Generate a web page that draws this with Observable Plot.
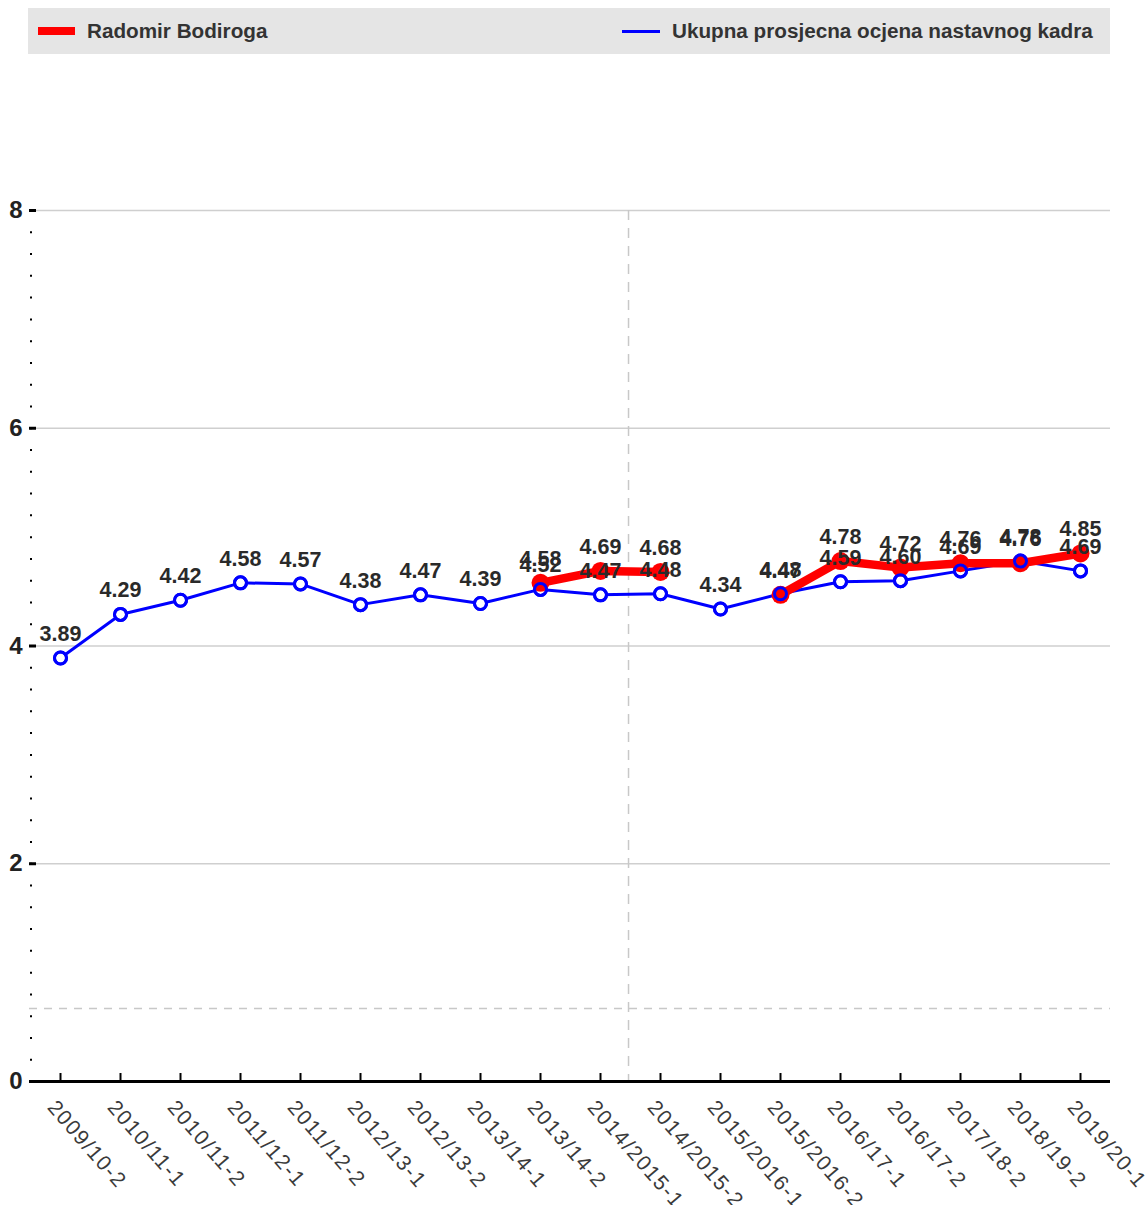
<!DOCTYPE html>
<html>
<head>
<meta charset="utf-8">
<script src="https://cdn.jsdelivr.net/npm/d3@7"></script>
<script src="https://cdn.jsdelivr.net/npm/@observablehq/plot@0.6"></script>
<style>
  html, body { margin: 0; padding: 0; background: #fff; }
  body { width: 1146px; font-family: "Liberation Sans", Arial, sans-serif; }
  #legend {
    position: relative; margin: 8px 0 0 28px; width: 1082px; height: 46px;
    background: #e5e5e5; color: #333; font-size: 20.7px; font-weight: bold;
  }
  .item { position: absolute; top: 0; height: 46px; display: flex; align-items: center; }
  .sw { display: inline-block; margin-right: 12px; }
  #chart { margin-top: 6px; }
  #chart svg g[aria-label="x-axis tick label"] { letter-spacing: 1.5px; }
</style>
</head>
<body>
<div id="legend">
  <div class="item" style="left:10px"><span class="sw" style="width:37px;height:8px;background:#ff0000"></span>Radomir Bodiroga</div>
  <div class="item" style="left:594px"><span class="sw" style="width:38px;height:3px;background:#0000ff"></span>Ukupna prosjecna ocjena nastavnog kadra</div>
</div>
<div id="chart"></div>
<script>
const categories = ["2009/10-2","2010/11-1","2010/11-2","2011/12-1","2011/12-2","2012/13-1","2012/13-2","2013/14-1","2013/14-2","2014/2015-1","2014/2015-2","2015/2016-1","2015/2016-2","2016/17-1","2016/17-2","2017/18-2","2018/19-2","2019/20-1"];
const overallAvg = [3.89, 4.29, 4.42, 4.58, 4.57, 4.38, 4.47, 4.39, 4.52, 4.47, 4.48, 4.34, 4.48, 4.59, 4.60, 4.69, 4.78, 4.69];
const teacherAvg = [null, null, null, null, null, null, null, null, 4.58, 4.69, 4.68, null, 4.47, 4.78, 4.72, 4.76, 4.76, 4.85];
const yTicks = [0, 2, 4, 6, 8];
const yMinorTicks = d3.range(0, 40).map(i => i * 0.2);
const referenceY = 0.67;
const dividerAfter = "2014/2015-1";

const blue = categories.map((c, i) => ({cat: c, v: overallAvg[i]}));
const red = categories.map((c, i) => ({cat: c, v: teacherAvg[i]}));
const redPts = red.filter(d => d.v != null);

const W = 1146, ML = 29, MR = 36;
const step = (W - ML - MR) / categories.length;

const chart = Plot.plot({
  width: W,
  height: 1145,
  marginTop: 150,
  marginBottom: 124,
  marginLeft: ML,
  marginRight: MR,
  style: {fontFamily: "Liberation Sans, Arial, sans-serif", background: "#fff"},
  x: {type: "point", domain: categories, padding: 0.5, label: null},
  y: {domain: [0, 8], label: null},
  marks: [
    Plot.gridY(yTicks.filter(v => v > 0), {stroke: "#cfcfcf", strokeOpacity: 1, strokeWidth: 1.5}),
    Plot.ruleY([referenceY], {stroke: "#c8c8c8", strokeWidth: 1.5, strokeDasharray: "8,7"}),
    Plot.ruleX([dividerAfter], {dx: step / 2 - 2, stroke: "#c8c8c8", strokeWidth: 1.5, strokeDasharray: "10,8"}),
    Plot.axisY(yTicks, {tickSize: 0, tickPadding: 7, tickFormat: d => String(d), fontSize: 24, fontWeight: "bold", fill: "#222", label: null}),
    Plot.axisY(yTicks, {fill: "none", tickSize: 7, dx: 7, stroke: "#000", strokeWidth: 3, label: null}),
    Plot.axisY(yMinorTicks, {fill: "none", tickSize: 2, dx: 3, stroke: "#000", strokeWidth: 2, label: null}),
    Plot.ruleY([0], {stroke: "#000", strokeWidth: 3}),
    Plot.axisX({fill: "none", tickSize: 8, dy: -8, stroke: "#000", strokeWidth: 2, label: null}),
    Plot.axisX({tickSize: 0, tickRotate: 49, tickPadding: 22, dx: -9, fontSize: 21, fill: "#3a3a3a", label: null}),
    Plot.lineY(blue, {x: "cat", y: "v", stroke: "#0000ff", strokeWidth: 3}),
    Plot.dot(blue, {x: "cat", y: "v", r: 6, fill: "#fff", stroke: "#0000ff", strokeWidth: 3}),
    Plot.lineY(red, {x: "cat", y: "v", stroke: "#ff0000", strokeWidth: 8.5, strokeLinejoin: "round", strokeLinecap: "round"}),
    Plot.dot(redPts, {x: "cat", y: "v", r: 9, fill: "#ff0000", stroke: "none"}),
    Plot.dot(blue, {x: "cat", y: "v", r: 6, fill: "none", stroke: "#0000ff", strokeWidth: 3}),
    Plot.text(blue, {x: "cat", y: "v", text: d => d.v.toFixed(2), dy: -24, fontSize: 21.5, fontWeight: "bold", fill: "#2a2a2a"}),
    Plot.text(redPts, {x: "cat", y: "v", text: d => d.v.toFixed(2), dy: -24, fontSize: 21.5, fontWeight: "bold", fill: "#2a2a2a"})
  ]
});
document.getElementById("chart").appendChild(chart);
</script>
</body>
</html>
